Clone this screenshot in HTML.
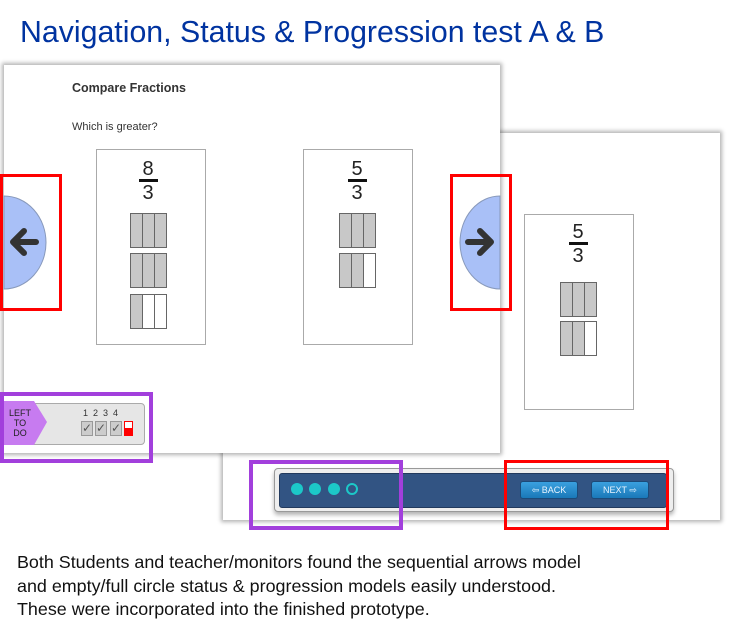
<!DOCTYPE html>
<html><head><style>
body{margin:0;width:743px;height:639px;background:#fff;position:relative;overflow:hidden;font-family:"Liberation Sans",Arial,sans-serif}
.a{position:absolute}
.panel{background:#fff;box-shadow:0 0 4px 2px rgba(0,0,0,.3)}
.box{border:1px solid #aaa;background:#fff}
.fr{position:absolute;width:40px;text-align:center;font-size:20px;color:#222;line-height:20px}
.fr .n{border-bottom:3px solid #111;width:19px;margin:0 auto 1px}
.bar{position:absolute;width:37px;height:35px;border:1px solid #666;box-sizing:border-box;display:flex}
.bar i{flex:1;border-right:1px solid #666;background:#c8c8c8}
.bar i:last-child{border-right:none}
.bar i.w{background:#fff}
.red{border:3px solid #f00;box-sizing:border-box}
.pur{border:4px solid #a23fdc;box-sizing:border-box}
.btn{position:absolute;width:56px;height:16px;background:linear-gradient(#3aa0df,#1a78b8);border:1px solid #1c4a78;border-radius:3px;color:#e8f4ff;font-size:9px;line-height:16px;text-align:center}
</style></head><body>
<div class="a" style="left:20px;top:16px;font-size:30.3px;color:#0033a0;white-space:nowrap">Navigation, Status &amp; Progression test A &amp; B</div>

<div class="a panel" style="left:223px;top:133px;width:497px;height:387px"></div>
<div class="a box" style="left:524px;top:214px;width:108px;height:194px"></div>
<div class="fr" style="left:558px;top:222px"><div class="n">5</div>3</div>
<div class="bar" style="left:560px;top:282px"><i></i><i></i><i></i></div>
<div class="bar" style="left:560px;top:321px"><i></i><i></i><i class="w"></i></div>

<div class="a" style="left:274px;top:468px;width:398px;height:42px;background:#eee;border:1px solid #999;border-radius:4px;box-shadow:0 3px 4px rgba(0,0,0,.3)"></div>
<div class="a" style="left:279px;top:473px;width:386px;height:33px;background:#325483;border:1px solid #223a5e;border-radius:3px"></div>
<div class="a" style="left:291px;top:483px;width:12px;height:12px;border-radius:50%;background:#1cc8c8"></div>
<div class="a" style="left:309px;top:483px;width:12px;height:12px;border-radius:50%;background:#1cc8c8"></div>
<div class="a" style="left:328px;top:483px;width:12px;height:12px;border-radius:50%;background:#1cc8c8"></div>
<div class="a" style="left:346px;top:483px;width:8px;height:8px;border-radius:50%;border:2px solid #1cc8c8"></div>
<div class="btn" style="left:520px;top:481px">&#8678; BACK</div>
<div class="btn" style="left:591px;top:481px">NEXT &#8680;</div>

<div class="a panel" style="left:4px;top:65px;width:496px;height:388px"></div>
<div class="a" style="left:72px;top:81px;font-size:12.5px;font-weight:bold;color:#333">Compare Fractions</div>
<div class="a" style="left:72px;top:121px;font-size:11px;color:#333">Which is greater?</div>
<div class="a box" style="left:96px;top:149px;width:108px;height:194px"></div>
<div class="fr" style="left:128px;top:159px"><div class="n">8</div>3</div>
<div class="bar" style="left:130px;top:213px"><i></i><i></i><i></i></div>
<div class="bar" style="left:130px;top:253px"><i></i><i></i><i></i></div>
<div class="bar" style="left:130px;top:294px"><i></i><i class="w"></i><i class="w"></i></div>
<div class="a box" style="left:303px;top:149px;width:108px;height:194px"></div>
<div class="fr" style="left:337px;top:159px"><div class="n">5</div>3</div>
<div class="bar" style="left:339px;top:213px"><i></i><i></i><i></i></div>
<div class="bar" style="left:339px;top:253px"><i></i><i></i><i class="w"></i></div>

<svg class="a" style="left:0;top:0" width="743" height="639">
<path d="M4,196 A42,46.5 0 0 1 4,289 Z" fill="#a9c0f7" stroke="#8899bb"/>
<path d="M500,196 A40,46.5 0 0 0 500,289 Z" fill="#a9c0f7" stroke="#8899bb"/>
<g stroke="#333" stroke-width="6" fill="none" stroke-linecap="round" stroke-linejoin="round">
<path d="M36,242 H14 M24,231 L13,242 L24,253"/>
<path d="M468,242 H490 M480,231 L491,242 L480,253"/>
</g>
</svg>

<div class="a" style="left:4px;top:403px;width:139px;height:40px;background:#e6e6e6;border:1px solid #aaa;border-radius:4px"></div>
<svg class="a" style="left:4px;top:401px" width="44" height="44"><path d="M0,0 H30 L43,21 L30,44 H0Z" fill="#c77bf0"/></svg>
<div class="a" style="left:6px;top:408px;width:28px;text-align:center;font-size:9px;line-height:10px;color:#222">LEFT<br>TO<br>DO</div>
<div class="a" style="left:83px;top:408px;font-size:9px;color:#333;letter-spacing:5px">1234</div>
<div class="a" style="left:81px;top:421px;width:10px;height:13px;background:#ccc;border:1px solid #999;font-size:12px;line-height:13px;color:#555">✓</div>
<div class="a" style="left:95px;top:421px;width:10px;height:13px;background:#ccc;border:1px solid #999;font-size:12px;line-height:13px;color:#555">✓</div>
<div class="a" style="left:110px;top:421px;width:10px;height:13px;background:#ccc;border:1px solid #999;font-size:12px;line-height:13px;color:#555">✓</div>
<div class="a" style="left:124px;top:421px;width:7px;height:13px;border:1px solid #f00;background:linear-gradient(#fff 45%,#f00 45%)"></div>

<div class="a red" style="left:0;top:174px;width:62px;height:137px"></div>
<div class="a red" style="left:450px;top:174px;width:62px;height:137px"></div>
<div class="a red" style="left:504px;top:460px;width:165px;height:70px"></div>
<div class="a pur" style="left:0;top:392px;width:153px;height:71px"></div>
<div class="a pur" style="left:249px;top:460px;width:154px;height:70px"></div>

<div class="a" style="left:17px;top:551px;font-size:17.9px;line-height:23.5px;color:#111;white-space:nowrap">Both Students and teacher/monitors found the sequential arrows model<br>and empty/full circle status &amp; progression models easily understood.<br>These were incorporated into the finished prototype.</div>
</body></html>
